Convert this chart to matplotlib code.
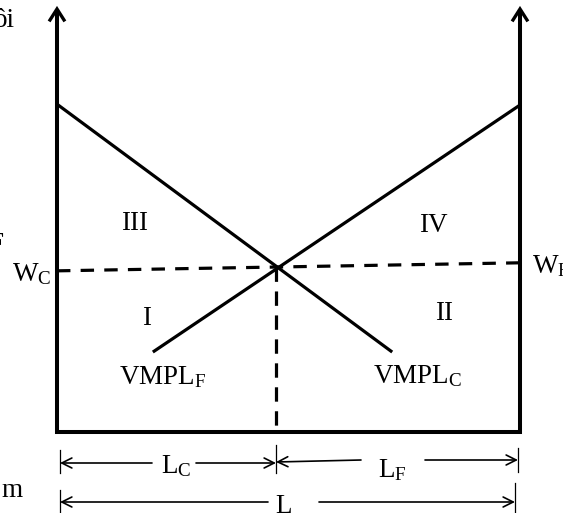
import matplotlib
matplotlib.use('Agg')
import matplotlib.pyplot as plt

plt.rcParams['font.family'] = ['Liberation Serif', 'DejaVu Serif']
plt.rcParams['mathtext.fontset'] = 'custom'
plt.rcParams['mathtext.rm'] = 'Liberation Serif'
plt.rcParams['mathtext.it'] = 'Liberation Serif:italic'

# ---- diagram data (labour units 0..100 along the box, wage units 0..100) ----
L_total = 100
axis_top = 100
vmplc_x = [0, 72.4]
vmplc_y = [77.5, 18.9]
vmplf_x = [20.7, 100]
vmplf_y = [18.9, 77.3]
eq_x = 47.3
eq_y = 39.0
wage_x = [0, 100]
wage_y = [38.1, 40.0]
region_labels = ['I', 'II', 'III', 'IV']

# ---- figure ----
fig = plt.figure(figsize=(5.63, 5.13), dpi=100)
ax = fig.add_axes([0, 0, 1, 1])
SX, SY = 4.63, 4.23
X0, Y0 = 57, 432
ax.set_xlim(-X0 / SX, (563 - X0) / SX)
ax.set_ylim((Y0 - 513) / SY, Y0 / SY)
ax.axis('off')


def P(px, py):
    return ((px - X0) / SX, (Y0 - py) / SY)


FS = 19.5
black = '#000000'

# box axes
ax.plot([0, 0, L_total, L_total], [axis_top, 0, 0, axis_top], color=black,
        lw=2.9, solid_joinstyle='miter', solid_capstyle='butt')
# arrow heads on the two vertical axes
dx, dy = 7 / SX, 11 / SY
for xa in (0, L_total):
    ax.plot([xa - dx, xa, xa + dx], [axis_top - dy, axis_top, axis_top - dy],
            color=black, lw=2.4, solid_joinstyle='miter')

# VMPL curves
ax.plot(vmplc_x, vmplc_y, color=black, lw=2.3, solid_capstyle='butt')
ax.plot(vmplf_x, vmplf_y, color=black, lw=2.3, solid_capstyle='butt')

# dashed wage line and vertical dashed line
ax.plot(wage_x, wage_y, color=black, lw=2.3, linestyle=(0, (4.2, 3.2)))
ax.plot([eq_x, eq_x], [eq_y, 0], color=black, lw=2.3, linestyle=(0, (4.5, 3.0)))

# region labels
pos_regions = {'I': (142, 325), 'II': (435, 320), 'III': (121, 230), 'IV': (419, 232)}
for lab in region_labels:
    x, y = P(*pos_regions[lab])
    ax.text(x, y, lab, fontsize=FS, ha='left', va='baseline')

# curve and wage labels
x, y = P(119, 384)
ax.text(x, y, r'VMPL$_{\mathrm{F}}$', fontsize=FS, ha='left', va='baseline')
x, y = P(373, 383)
ax.text(x, y, r'VMPL$_{\mathrm{C}}$', fontsize=FS, ha='left', va='baseline')
x, y = P(12, 281)
ax.text(x, y, r'W$_{\mathrm{C}}$', fontsize=FS, ha='left', va='baseline')
x, y = P(532, 273)
ax.text(x, y, r'W$_{\mathrm{F}}$', fontsize=FS, ha='left', va='baseline')

# cut-off surrounding texts
x, y = P(15, 27)
ax.text(x, y, 'ồi', fontsize=FS, ha='right', va='baseline')
x, y = P(3, 251)
ax.text(x, y, 'F', fontsize=FS, ha='right', va='baseline')
x, y = P(1, 497)
ax.text(x, y, 'm', fontsize=FS, ha='left', va='baseline')

# dimension arrows below the box
aprops = dict(arrowstyle='->', lw=1.2, color=black, shrinkA=0, shrinkB=0,
              mutation_scale=18)


def dim_arrow(p_from, p_to):
    ax.annotate('', xy=P(*p_to), xytext=P(*p_from), arrowprops=aprops)


def tick(px, py0, py1):
    (x0, y0), (x1, y1) = P(px, py0), P(px, py1)
    ax.plot([x0, x1], [y0, y1], color=black, lw=0.9)


eqpx = X0 + eq_x * SX
rpx = X0 + L_total * SX
# L_C row
dim_arrow((152, 463), (60, 463))
dim_arrow((196, 463), (eqpx, 463))
# L_F row
dim_arrow((361, 460), (eqpx, 462))
dim_arrow((425, 460), (rpx - 2, 460))
# L row
dim_arrow((268, 502), (60, 502))
dim_arrow((319, 502), (rpx - 5, 502))

tick(60, 450, 473)
tick(eqpx, 445, 473)
tick(rpx - 2, 448, 472)
tick(60, 490, 513)
tick(rpx - 5, 483, 513)

x, y = P(161, 473)
ax.text(x, y, r'L$_{\mathrm{C}}$', fontsize=FS, ha='left', va='baseline')
x, y = P(378, 477)
ax.text(x, y, r'L$_{\mathrm{F}}$', fontsize=FS, ha='left', va='baseline')
x, y = P(275, 513)
ax.text(x, y, 'L', fontsize=FS, ha='left', va='baseline')

fig.savefig('out.png', dpi=100)
